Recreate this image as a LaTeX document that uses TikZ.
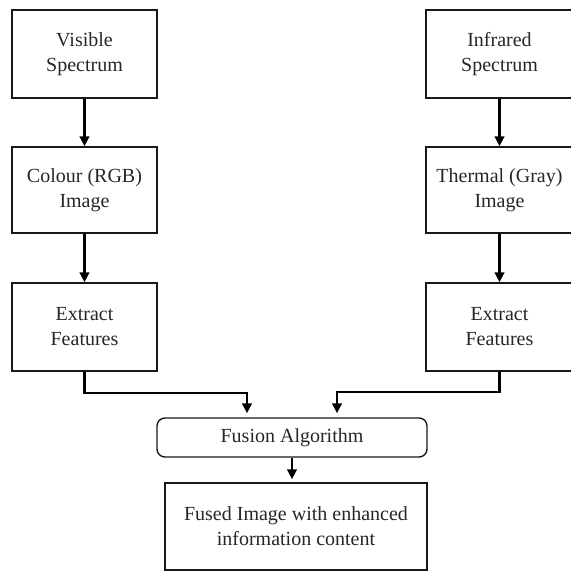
\documentclass[tikz,border=0pt]{standalone}
\usepackage{fontspec}
\setmainfont{Liberation Serif}
\usetikzlibrary{arrows.meta}
\begin{document}
\begin{tikzpicture}[x=1pt,y=-1pt,
  box/.style={draw=black!90, line width=1.4pt, inner sep=0pt, align=center,
    font=\fontsize{20}{25}\selectfont, text=black!85},
  conn/.style={draw=black, line width=2.8pt, -{Triangle[width=9.5pt,length=10pt]}}]
\useasboundingbox (0,0) rectangle (571,571);
% left column
\node[box, minimum width=145pt, minimum height=88pt] (vis) at (84.5,54) {Visible\\Spectrum};
\node[box, minimum width=145pt, minimum height=86pt] (col) at (84.5,190) {Colour (RGB)\\Image};
\node[box, minimum width=145pt, minimum height=88pt] (exl) at (84.5,327) {Extract\\Features};
% right column
\node[box, minimum width=147pt, minimum height=88pt] (ir) at (499.5,54) {Infrared\\Spectrum};
\node[box, minimum width=147pt, minimum height=86pt] (th) at (499.5,190) {Thermal (Gray)\\Image};
\node[box, minimum width=147pt, minimum height=88pt] (exr) at (499.5,327) {Extract\\Features};
% fusion
\node[box, rounded corners=8pt, minimum width=270pt, minimum height=39pt] (fus) at (292,437.5) {Fusion Algorithm};
\node[box, minimum width=262pt, minimum height=87pt] (out) at (296,526.5) {Fused Image with enhanced\\information content};
% junctions
\coordinate (jl) at (84.5,393);
\coordinate (jr) at (499.5,392);
% connectors
\draw[conn] (vis) -- (col);
\draw[conn] (col) -- (exl);
\draw[conn] (ir) -- (th);
\draw[conn] (th) -- (exr);
\draw[conn, shorten >=4pt] (exl.south) -- (jl) -| ([xshift=-45pt]fus.north);
\draw[conn, shorten >=4pt] (exr.south) -- (jr) -| ([xshift=45pt]fus.north);
\draw[conn, shorten >=3pt] (fus.south) -- (fus.south |- out.north);
\end{tikzpicture}
\end{document}
